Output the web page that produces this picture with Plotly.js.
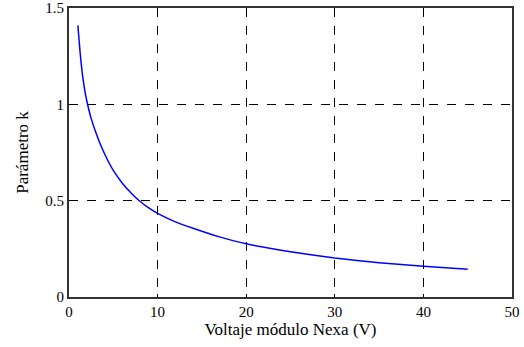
<!DOCTYPE html>
<html>
<head>
<meta charset="utf-8">
<script src="https://cdn.plot.ly/plotly-3.0.1.min.js"></script>
<style>html,body{margin:0;padding:0;background:#fff;}#chart{width:524px;height:347px;}</style>
</head>
<body>
<div id="chart"></div>
<script>
// Voltage (V) on the x axis
const voltaje = [1, 1.25, 1.5, 1.75, 2, 2.5, 3, 3.5, 4, 4.5, 5, 6, 7, 8, 9, 10, 12, 14, 17, 20, 25, 30, 35, 40, 45];
// Parameter k
const parametroK = [1.41, 1.27, 1.16, 1.08, 1.02, 0.927, 0.858, 0.797, 0.745, 0.698, 0.657, 0.592, 0.540, 0.497, 0.462, 0.434, 0.39, 0.357, 0.312, 0.276, 0.235, 0.202, 0.178, 0.16, 0.144];
const xTicks = [0, 10, 20, 30, 40, 50];
const xTickLabels = ['0', '10', '20', '30', '40', '50'];
const yTicks = [0, 0.5, 1, 1.5];
const yTickLabels = ['0', '0.5', '1', '1.5'];

const font = {family: 'Liberation Serif, Times New Roman, serif', size: 15, color: '#000'};

Plotly.newPlot('chart', [{
  x: voltaje, y: parametroK, type: 'scatter', mode: 'lines',
  line: {color: '#0000ff', width: 1.5, shape: 'spline', smoothing: 0.4},
  hoverinfo: 'skip'
}], {
  width: 524, height: 347,
  margin: {l: 69, r: 12, t: 8, b: 50},
  paper_bgcolor: '#fff', plot_bgcolor: '#fff',
  showlegend: false,
  font: font,
  xaxis: {
    range: [0, 50], tickvals: xTicks, ticktext: xTickLabels,
    showgrid: true, gridcolor: '#000', griddash: 'dash', gridwidth: 1,
    showline: true, mirror: true, linecolor: '#333', linewidth: 2,
    zeroline: false, ticks: 'inside', ticklen: 3, tickcolor: '#000',
    tickfont: font,
    title: {text: 'Voltaje módulo Nexa (V)', font: {family: font.family, size: 17, color: '#000'}, standoff: 3}
  },
  yaxis: {
    range: [0, 1.5], tickvals: yTicks, ticktext: yTickLabels,
    showgrid: true, gridcolor: '#000', griddash: 'dash', gridwidth: 1,
    showline: true, mirror: true, linecolor: '#333', linewidth: 2,
    zeroline: false, ticks: 'inside', ticklen: 3, tickcolor: '#000',
    tickfont: font,
    title: {text: 'Parámetro k', font: {family: font.family, size: 17, color: '#000'}, standoff: 12}
  }
}, {staticPlot: true, displayModeBar: false});
</script>
</body>
</html>
